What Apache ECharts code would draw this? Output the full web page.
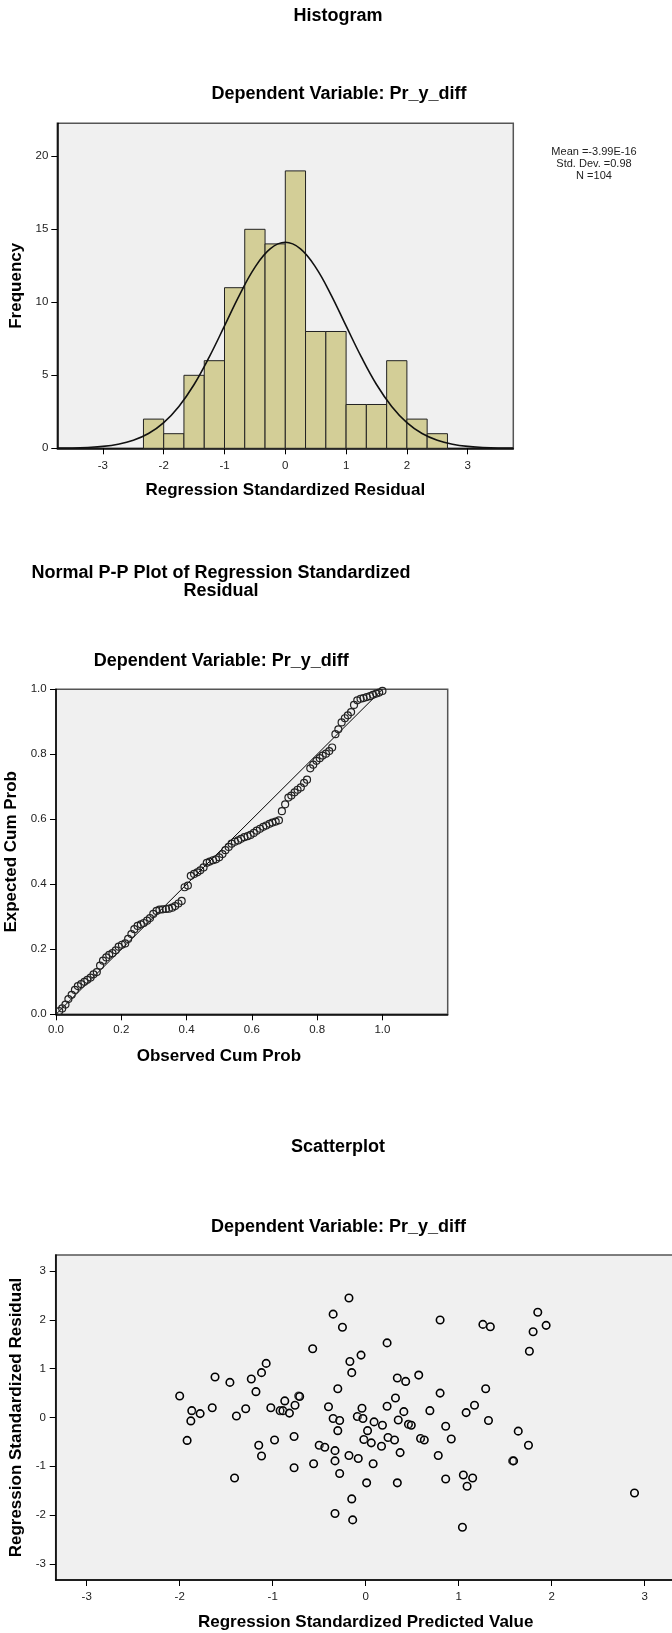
<!DOCTYPE html>
<html>
<head>
<meta charset="utf-8">
<script src="https://cdn.jsdelivr.net/npm/echarts@6/dist/echarts.min.js"></script>
<style>
html,body{margin:0;padding:0;background:#fff;}
#chart{width:672px;height:1633px;}
</style>
</head>
<body>
<div id="chart"></div>
<script>
// ---------- Histogram data ----------
const histBinEdges = [-2.333, -2, -1.667, -1.333, -1, -0.667, -0.333, 0, 0.333, 0.667, 1, 1.333, 1.667, 2, 2.333, 2.667];
const histCounts = [2, 1, 5, 6, 11, 15, 14, 19, 8, 8, 3, 3, 6, 2, 1];
const histXTicks = [-3, -2, -1, 0, 1, 2, 3];
const histYTicks = [0, 5, 10, 15, 20];
// normal curve
const curveX = [-3.75,-3.5,-3.25,-3,-2.75,-2.5,-2.25,-2,-1.75,-1.5,-1.25,-1,-0.75,-0.5,-0.25,0,0.25,0.5,0.75,1,1.25,1.5,1.75,2,2.25,2.5,2.75,3,3.25,3.5,3.75];
const curveY = [0.01,0.02,0.06,0.13,0.28,0.55,1.01,1.76,2.87,4.37,6.26,8.38,10.53,12.39,13.66,14.11,13.66,12.39,10.53,8.38,6.26,4.37,2.87,1.76,1.01,0.55,0.28,0.13,0.06,0.02,0.01];
const histStatsText = ['Mean =-3.99E-16', 'Std. Dev. =0.98', 'N =104'];

// ---------- Normal P-P plot data [observed, expected] ----------
const ppPoints = [
[0.010,0.010],[0.019,0.018],[0.029,0.030],[0.038,0.047],[0.048,0.060],[0.058,0.075],[0.067,0.087],[0.077,0.093],[0.087,0.100],[0.096,0.106],
[0.106,0.113],[0.115,0.123],[0.125,0.130],[0.135,0.150],[0.144,0.165],[0.154,0.175],[0.163,0.183],[0.173,0.188],[0.183,0.197],[0.192,0.208],
[0.202,0.214],[0.212,0.218],[0.221,0.232],[0.231,0.247],[0.240,0.262],[0.250,0.272],[0.260,0.277],[0.269,0.281],[0.279,0.288],[0.288,0.296],
[0.298,0.309],[0.308,0.318],[0.317,0.322],[0.327,0.323],[0.337,0.324],[0.346,0.325],[0.356,0.328],[0.365,0.333],[0.375,0.341],[0.385,0.349],
[0.394,0.391],[0.404,0.396],[0.413,0.426],[0.423,0.432],[0.433,0.437],[0.442,0.443],[0.452,0.452],[0.462,0.466],[0.471,0.470],[0.481,0.474],
[0.490,0.477],[0.500,0.483],[0.510,0.493],[0.519,0.505],[0.529,0.515],[0.538,0.525],[0.548,0.531],[0.558,0.535],[0.567,0.540],[0.577,0.545],
[0.587,0.548],[0.596,0.552],[0.606,0.558],[0.615,0.565],[0.625,0.571],[0.635,0.577],[0.644,0.581],[0.654,0.586],[0.663,0.590],[0.673,0.593],
[0.683,0.597],[0.692,0.625],[0.702,0.646],[0.712,0.667],[0.721,0.673],[0.731,0.683],[0.740,0.691],[0.750,0.698],[0.760,0.712],[0.769,0.722],
[0.779,0.757],[0.788,0.768],[0.798,0.780],[0.808,0.788],[0.817,0.796],[0.827,0.802],[0.837,0.810],[0.846,0.821],[0.856,0.862],[0.865,0.877],
[0.875,0.898],[0.885,0.911],[0.894,0.920],[0.904,0.930],[0.913,0.952],[0.923,0.966],[0.933,0.971],[0.942,0.973],[0.952,0.976],[0.962,0.979],
[0.971,0.983],[0.981,0.987],[0.990,0.990],[1.000,0.995]
];
const ppRefLine = [[0, 0], [1, 1]];
const ppTicks = [0, 0.2, 0.4, 0.6, 0.8, 1.0];

// ---------- Scatterplot data [predicted, residual] ----------
const scatterPoints = [
[-2.00,0.44],[-1.87,0.14],[-1.88,-0.07],[-1.78,0.08],[-1.92,-0.47],[-1.65,0.20],[-1.62,0.83],[-1.46,0.72],[-1.39,0.03],[-1.41,-1.24],
[-1.29,0.18],[-1.23,0.79],[-1.18,0.53],[-1.12,0.92],[-1.07,1.11],[-1.15,-0.57],[-1.12,-0.79],[-1.02,0.20],[-0.98,-0.46],[-0.92,0.14],
[-0.89,0.14],[-0.87,0.34],[-0.82,0.09],[-0.76,0.25],[-0.72,0.44],[-0.71,0.43],[-0.77,-0.39],[-0.77,-1.03],[-0.57,1.41],[-0.56,-0.95],
[-0.50,-0.57],[-0.44,-0.61],[-0.40,0.22],[-0.35,-0.02],[-0.35,2.12],[-0.33,-0.68],[-0.33,-0.89],[-0.33,-1.97],
[-0.30,0.59],[-0.30,-0.27],[-0.28,-0.06],[-0.28,-1.15],[-0.25,1.85],[-0.18,2.45],[-0.17,1.15],[-0.15,0.92],[-0.18,-0.78],[-0.15,-1.67],
[-0.14,-2.10],[-0.05,1.28],[-0.09,0.02],[-0.04,0.19],[-0.03,-0.02],[-0.08,-0.84],[-0.02,-0.45],[0.02,-0.27],[0.06,-0.52],[0.08,-0.95],
[0.01,-1.34],[0.09,-0.09],[0.18,-0.16],[0.17,-0.59],[0.23,1.53],[0.23,0.23],[0.24,-0.41],[0.31,-0.46],[0.32,0.40],[0.35,-0.05],
[0.34,0.81],[0.37,-0.72],[0.34,-1.34],[0.41,0.12],[0.43,0.74],[0.46,-0.14],[0.49,-0.16],[0.57,0.87],[0.59,-0.43],[0.63,-0.46],
[0.69,0.14],[0.80,2.00],[0.80,0.50],[0.78,-0.78],[0.86,-0.18],[0.86,-1.26],[0.92,-0.44],[1.05,-1.18],[1.04,-2.25],[1.08,0.10],
[1.09,-1.41],[1.15,-1.24],[1.17,0.25],[1.26,1.91],[1.34,1.86],[1.29,0.59],[1.32,-0.06],[1.58,-0.89],[1.59,-0.89],[1.64,-0.28],
[1.75,-0.57],[1.76,1.36],[1.80,1.76],[1.85,2.16],[1.94,1.89],[2.89,-1.55]
];
const scatterTicks = [-3, -2, -1, 0, 1, 2, 3];

// ---------- Rendering ----------
const FONT = "'Liberation Sans', Arial, sans-serif";
const tickLabel = { fontFamily: FONT, fontSize: 11.5, color: '#222' };
const axisTitle = { fontFamily: FONT, fontSize: 17, fontWeight: 'bold', color: '#000' };

function axisCommon(extra) {
  return Object.assign({
    type: 'value',
    splitLine: { show: false },
    axisLine: { show: true, onZero: false, lineStyle: { color: '#000', width: 1.5 } },
    axisTick: { show: true, length: 6, lineStyle: { color: '#000', width: 1 } },
    nameLocation: 'middle',
    nameTextStyle: axisTitle
  }, extra);
}

const chart = echarts.init(document.getElementById('chart'), null, { renderer: 'canvas', width: 672, height: 1633 });

function titleText(txt, x, y, size) {
  return { type: 'text', x: x, y: y, silent: true,
    style: { text: txt, fill: '#000', font: 'bold ' + (size || 18) + 'px ' + FONT, textAlign: 'center', textVerticalAlign: 'middle' } };
}
function smallText(txt, x, y) {
  return { type: 'text', x: x, y: y, silent: true,
    style: { text: txt, fill: '#222', font: '11px ' + FONT, textAlign: 'center', textVerticalAlign: 'middle' } };
}

const gridStyle = { show: true, backgroundColor: '#F0F0F0', borderColor: '#555', borderWidth: 1.5, outerBoundsMode: 'none', containLabel: false };

const option = {
  animation: false,
  backgroundColor: '#fff',
  grid: [
    Object.assign({ left: 57.3, top: 123.3, width: 456, height: 325 }, gridStyle),
    Object.assign({ left: 56, top: 689.3, width: 391.7, height: 325 }, gridStyle),
    Object.assign({ left: 55.7, top: 1255, width: 620, height: 325 }, gridStyle)
  ],
  xAxis: [
    axisCommon({ gridIndex: 0, min: -3.75, max: 3.75,
      axisTick: { show: true, length: 6, customValues: histXTicks, lineStyle: { color: '#000' } },
      axisLabel: { customValues: histXTicks, margin: 11.5, ...tickLabel },
      name: 'Regression Standardized Residual', nameGap: 33.5 }),
    axisCommon({ gridIndex: 1, min: 0, max: 1.2,
      axisTick: { show: true, length: 6, customValues: ppTicks, lineStyle: { color: '#000' } },
      axisLabel: { customValues: ppTicks, margin: 9.5, formatter: v => v.toFixed(1), ...tickLabel },
      name: 'Observed Cum Prob', nameGap: 33.5,
      nameTextStyle: Object.assign({}, axisTitle, { padding: [0, 66, 0, 0] }) }),
    axisCommon({ gridIndex: 2, min: -3.333, max: 3.333,
      axisTick: { show: true, length: 6, customValues: scatterTicks, lineStyle: { color: '#000' } },
      axisLabel: { customValues: scatterTicks, margin: 10.5, ...tickLabel },
      name: 'Regression Standardized Predicted Value', nameGap: 34.3 })
  ],
  yAxis: [
    axisCommon({ gridIndex: 0, min: 0, max: 22.26,
      axisTick: { show: true, length: 6, customValues: histYTicks, lineStyle: { color: '#000' } },
      axisLabel: { customValues: histYTicks, margin: 9, ...tickLabel },
      name: 'Frequency', nameGap: 25.3 }),
    axisCommon({ gridIndex: 1, min: 0, max: 1,
      axisTick: { show: true, length: 6, customValues: ppTicks, lineStyle: { color: '#000' } },
      axisLabel: { customValues: ppTicks, margin: 9.3, formatter: v => v.toFixed(1), ...tickLabel },
      name: 'Expected Cum Prob', nameGap: 29.3 }),
    axisCommon({ gridIndex: 2, min: -3.333, max: 3.333,
      axisTick: { show: true, length: 6, customValues: scatterTicks, lineStyle: { color: '#000' } },
      axisLabel: { customValues: scatterTicks, margin: 9.7, ...tickLabel },
      name: 'Regression Standardized Residual', nameGap: 24.6 })
  ],
  series: [
    {
      type: 'custom', xAxisIndex: 0, yAxisIndex: 0, z: 2,
      data: histCounts.map((c, i) => [histBinEdges[i], histBinEdges[i + 1], c]),
      encode: { x: [0, 1], y: 2 },
      renderItem: function (params, api) {
        const p0 = api.coord([api.value(0), api.value(2)]);
        const p1 = api.coord([api.value(1), 0]);
        return { type: 'rect',
          shape: { x: p0[0], y: p0[1], width: p1[0] - p0[0], height: p1[1] - p0[1] },
          style: { fill: '#D3CE97', stroke: '#222', lineWidth: 1 } };
      }
    },
    {
      type: 'line', xAxisIndex: 0, yAxisIndex: 0, z: 3,
      data: curveX.map((x, i) => [x, curveY[i]]),
      smooth: 0.4, symbol: 'none', silent: true,
      lineStyle: { color: '#111', width: 1.6 }
    },
    {
      type: 'line', xAxisIndex: 1, yAxisIndex: 1, z: 2,
      data: ppRefLine, symbol: 'none', silent: true,
      lineStyle: { color: '#000', width: 1 }
    },
    {
      type: 'scatter', xAxisIndex: 1, yAxisIndex: 1, z: 3,
      data: ppPoints, symbol: 'circle', symbolSize: 7,
      itemStyle: { color: 'rgba(0,0,0,0)', borderColor: '#222', borderWidth: 1.2, opacity: 1 }
    },
    {
      type: 'scatter', xAxisIndex: 2, yAxisIndex: 2, z: 3,
      data: scatterPoints, symbol: 'circle', symbolSize: 7.5,
      itemStyle: { color: 'rgba(0,0,0,0)', borderColor: '#000', borderWidth: 1.6, opacity: 1,
        shadowColor: 'rgba(255,255,255,0.9)', shadowBlur: 2 }
    }
  ],
  graphic: [
    titleText('Histogram', 338, 16.5),
    titleText('Dependent Variable: Pr_y_diff', 339, 94.5),
    smallText(histStatsText[0], 594, 152.1),
    smallText(histStatsText[1], 594, 163.9),
    smallText(histStatsText[2], 594, 176.4),
    titleText('Normal P-P Plot of Regression Standardized', 221, 573.5),
    titleText('Residual', 221, 591),
    titleText('Dependent Variable: Pr_y_diff', 221.3, 661),
    titleText('Scatterplot', 338, 1147.5),
    titleText('Dependent Variable: Pr_y_diff', 338.5, 1227)
  ]
};
chart.setOption(option);
</script>
</body>
</html>
